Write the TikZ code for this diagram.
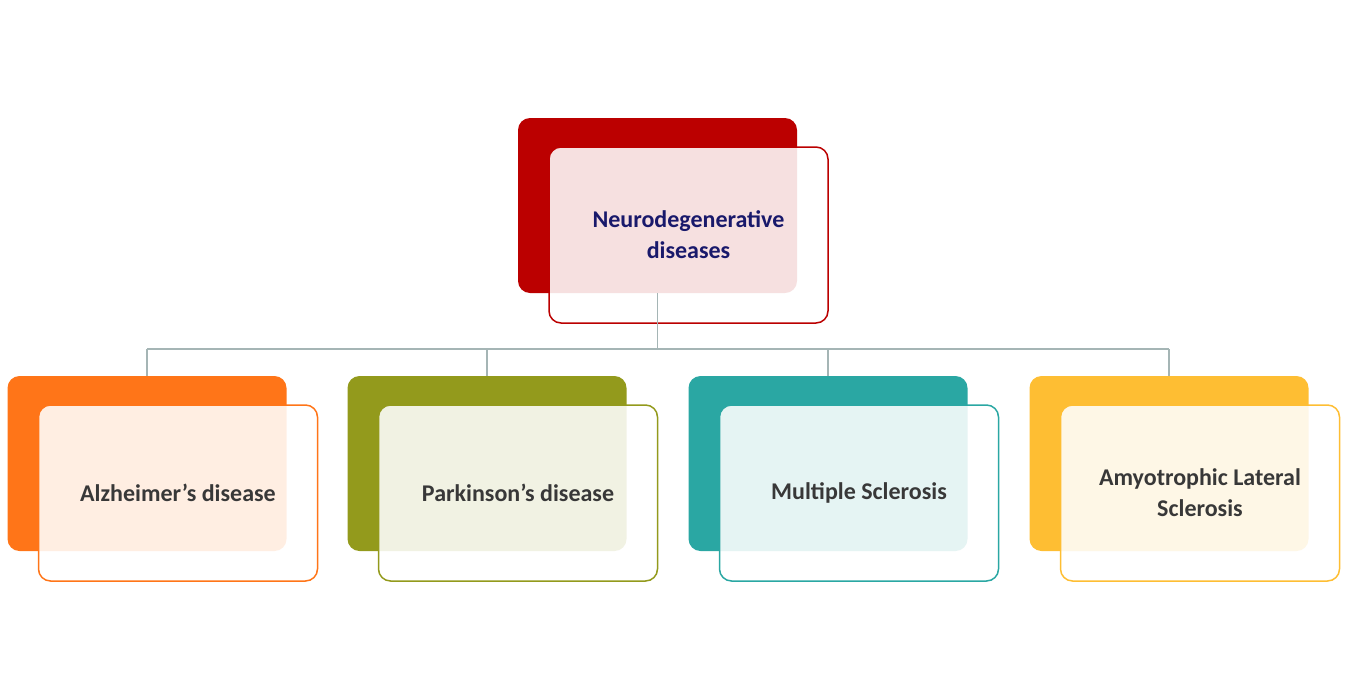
\documentclass[tikz,border=0pt]{standalone}
\usepackage{fontspec}
\setmainfont{Carlito}
\definecolor{topred}{HTML}{BB0000}
\definecolor{alzorange}{HTML}{FF7518}
\definecolor{parkolive}{HTML}{939A1C}
\definecolor{msteal}{HTML}{2AA7A3}
\definecolor{alsyellow}{HTML}{FEBE33}
\definecolor{linegray}{HTML}{A5B5B5}
\tikzset{
  backbox/.style={rectangle, rounded corners=12pt, minimum width=279pt, minimum height=175pt, fill=#1, draw=none},
  frontbox/.style={rectangle, rounded corners=12pt, minimum width=279pt, minimum height=176pt, draw=#1, line width=1.5pt,
    fill=white, fill opacity=0.88, text opacity=1, align=center, font=\fontsize{24}{31}\selectfont\bfseries, text=black!78},
  link/.style={draw=linegray, line width=1.5pt}
}
\begin{document}
\begin{tikzpicture}[x=1pt,y=-1pt]
\useasboundingbox (0,0) rectangle (1348,699);
% root
\node[backbox=topred] (rootback) at (657.5,205.5) {};
\node[frontbox=topred, text=black!60!blue!80!gray] (root) at (688.5,235) {Neurodegenerative\\diseases};
% children
\foreach \name/\x/\col/\txt in {alz/147/alzorange/Alzheimer’s disease,
    park/487/parkolive/Parkinson’s disease,
    ms/828/msteal/Multiple Sclerosis,
    als/1169/alsyellow/Amyotrophic Lateral\\Sclerosis}{
  \node[backbox=\col] (\name back) at (\x,463.5) {};
  \coordinate (\name top) at (\x,349);
}
\draw[link] (rootback.south) -- (657.5,349) (alztop) -- (alstop);
\foreach \name in {alz,park,ms,als}
  \draw[link] (\name top) -- (\name back.north);
\foreach \name/\x/\col/\txt in {alz/147/alzorange/Alzheimer’s disease,
    park/487/parkolive/Parkinson’s disease,
    ms/828/msteal/Multiple Sclerosis,
    als/1169/alsyellow/Amyotrophic Lateral\\Sclerosis}
  \node[frontbox=\col] (\name) at (\x+31,493) {\txt};
\end{tikzpicture}
\end{document}
